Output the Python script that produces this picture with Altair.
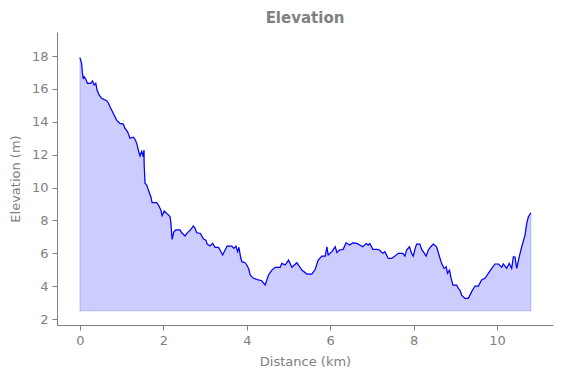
import altair as alt
import pandas as pd

distance_km = [0.00, 0.04, 0.06, 0.08, 0.10, 0.14, 0.18, 0.26, 0.30, 0.34, 0.38, 0.41, 0.46, 0.52,
               0.64, 0.68, 0.72, 0.76, 0.80, 0.88, 0.96, 1.04, 1.08, 1.14, 1.20, 1.28, 1.32, 1.36,
               1.40, 1.44, 1.48, 1.52, 1.535, 1.54, 1.56, 1.60, 1.64, 1.70, 1.73, 1.84, 1.88, 1.94,
               1.97, 2.02, 2.08, 2.16, 2.18, 2.21, 2.25, 2.30, 2.40, 2.44, 2.52, 2.56, 2.65, 2.72,
               2.76, 2.80, 2.89, 2.93, 2.97, 3.02, 3.05, 3.12, 3.18, 3.24, 3.32, 3.36, 3.42, 3.48,
               3.53, 3.64, 3.69, 3.74, 3.78, 3.81, 3.85, 3.88, 3.96, 4.00, 4.05, 4.08, 4.16, 4.28,
               4.36, 4.44, 4.52, 4.60, 4.68, 4.80, 4.84, 4.92, 5.00, 5.08, 5.20, 5.32, 5.44, 5.56,
               5.64, 5.71, 5.80, 5.88, 5.92, 5.95, 6.04, 6.12, 6.16, 6.22, 6.31, 6.38, 6.47, 6.54,
               6.64, 6.78, 6.86, 6.91, 6.95, 7.02, 7.12, 7.18, 7.26, 7.31, 7.39, 7.47, 7.55, 7.63,
               7.74, 7.79, 7.83, 7.90, 7.95, 7.99, 8.03, 8.07, 8.15, 8.19, 8.23, 8.30, 8.35, 8.41,
               8.47, 8.55, 8.62, 8.67, 8.73, 8.78, 8.81, 8.86, 8.89, 8.94, 9.03, 9.07, 9.11, 9.15,
               9.23, 9.31, 9.39, 9.47, 9.55, 9.63, 9.71, 9.79, 9.87, 9.95, 10.03, 10.11, 10.15,
               10.23, 10.29, 10.35, 10.39, 10.43, 10.47, 10.53, 10.59, 10.67, 10.71, 10.75, 10.81]

elevation_m = [17.9, 17.56, 16.95, 16.6, 16.74, 16.6, 16.34, 16.34, 16.48, 16.24, 16.34, 15.93, 15.63, 15.43,
               15.28, 15.16, 14.92, 14.72, 14.51, 14.1, 13.9, 13.86, 13.6, 13.4, 13.0, 13.06, 12.93, 12.7,
               12.28, 11.92, 12.2, 11.87, 12.28, 11.37, 10.26, 10.15, 9.85, 9.44, 9.08, 9.08, 8.94, 8.63,
               8.29, 8.57, 8.43, 8.23, 7.86, 6.85, 7.31, 7.42, 7.42, 7.25, 7.05, 7.21, 7.42, 7.66,
               7.52, 7.25, 7.21, 7.0, 6.85, 6.8, 6.56, 6.44, 6.61, 6.36, 6.36, 6.2, 5.9, 6.2,
               6.44, 6.44, 6.3, 6.44, 6.1, 6.36, 5.79, 5.49, 5.43, 5.29, 5.03, 4.68, 4.48, 4.38,
               4.33, 4.07, 4.68, 4.98, 5.15, 5.15, 5.39, 5.29, 5.59, 5.15, 5.43, 4.98, 4.74, 4.74,
               5.03, 5.59, 5.83, 5.83, 6.4, 5.9, 6.1, 6.4, 6.04, 6.2, 6.24, 6.64, 6.5, 6.64,
               6.6, 6.4, 6.6, 6.5, 6.6, 6.24, 6.24, 6.2, 6.0, 6.1, 5.69, 5.69, 5.83, 6.0,
               6.0, 5.83, 6.2, 6.4, 6.0, 5.83, 6.24, 6.56, 6.56, 6.24, 6.1, 5.83, 6.2, 6.4,
               6.56, 6.4, 5.79, 5.39, 5.08, 5.18, 4.78, 4.98, 4.57, 4.07, 4.07, 3.87, 3.77, 3.46,
               3.26, 3.26, 3.67, 4.01, 4.01, 4.38, 4.48, 4.78, 5.08, 5.35, 5.35, 5.15, 5.35,
               5.08, 5.39, 5.08, 5.79, 5.76, 5.08, 5.79, 6.4, 7.11, 7.82, 8.23, 8.47]

baseline_m = 2.5
x_ticks = [0, 2, 4, 6, 8, 10]
y_ticks = [2, 4, 6, 8, 10, 12, 14, 16, 18]

df = pd.DataFrame({"d": distance_km, "e": elevation_m})
df["base"] = baseline_m

GRAY = "#808080"
FONT = "DejaVu Sans"

xs = alt.X("d:Q", scale=alt.Scale(domain=[-0.55, 11.34], nice=False, zero=False),
           axis=alt.Axis(values=x_ticks, title="Distance (km)", grid=False, format="d",
                         labelOverlap=False, titlePadding=8))
ys = alt.Y("e:Q", scale=alt.Scale(domain=[1.64, 19.46], nice=False, zero=False),
           axis=alt.Axis(values=y_ticks, title="Elevation (m)", grid=False, format="d",
                         labelOverlap=False, labelBound=False, titlePadding=9))

area = alt.Chart(df).mark_area(
    fill="blue", fillOpacity=0.2, stroke="blue", strokeOpacity=0.2, strokeWidth=1
).encode(x=xs, y=ys, y2="base:Q")

line = alt.Chart(df).mark_line(color="blue", strokeWidth=1.2).encode(x=xs, y=ys)

chart = alt.layer(area, line).properties(
    width=496, height=293,
    padding={"left": 57, "top": 32, "right": 10, "bottom": 53},
    autosize=alt.AutoSizeParams(type="none"),
    title=alt.TitleParams("Elevation", font=FONT, fontSize=15, fontWeight="bold",
                          color=GRAY, anchor="middle", offset=6),
).configure_view(stroke=None).configure_axis(
    domainColor=GRAY, tickColor=GRAY, labelColor=GRAY, titleColor=GRAY,
    labelFont=FONT, titleFont=FONT, labelFontSize=13, titleFontSize=13,
    titleFontWeight="normal", tickSize=5, labelPadding=4, domainWidth=1, tickWidth=1,
)

chart.save("out.html", embed_options={"renderer": "svg", "actions": False})
